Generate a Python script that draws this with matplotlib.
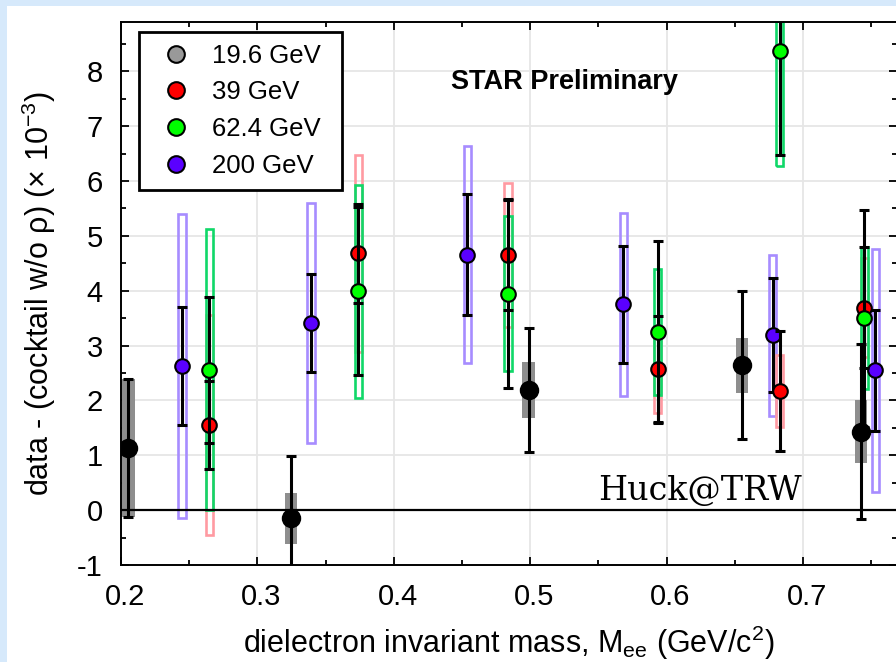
import numpy as np
import matplotlib.pyplot as plt
import matplotlib.transforms as mtransforms
from matplotlib.lines import Line2D
from matplotlib.patches import Rectangle

plt.rcParams['font.family'] = 'Liberation Sans'
plt.rcParams['mathtext.fontset'] = 'custom'
plt.rcParams['mathtext.rm'] = 'Liberation Sans'
plt.rcParams['mathtext.it'] = 'Liberation Sans:italic'

# excess yield per energy: mass (GeV/c^2), value, stat. error, sys. error  (x 10^-3)
mass_19 = [0.2053, 0.3246, 0.4988, 0.6555, 0.7425]
val_19 = [1.14, -0.15, 2.19, 2.64, 1.43]
stat_19 = [1.26, 1.13, 1.13, 1.35, 1.60]
sys_19 = [1.26, 0.47, 0.51, 0.50, 0.57]

mass_39 = [0.2647, 0.3740, 0.4837, 0.5934, 0.6830, 0.7450]
val_39 = [1.55, 4.68, 4.65, 2.57, 2.17, 3.69]
stat_39 = [0.80, 0.90, 1.00, 0.97, 1.10, 1.10]
sys_39 = [2.00, 1.80, 1.31, 0.79, 0.65, 0.90]

mass_62 = [0.2647, 0.3740, 0.4837, 0.5934, 0.6830, 0.7450]
val_62 = [2.56, 3.99, 3.95, 3.25, 8.37, 3.50]
stat_62 = [1.33, 1.53, 1.72, 1.66, 1.90, 1.98]
sys_62 = [2.56, 1.94, 1.41, 1.15, 2.10, 1.30]

mass_200 = [0.2448, 0.3394, 0.4540, 0.5684, 0.6779, 0.7531]
val_200 = [2.63, 3.41, 4.66, 3.75, 3.19, 2.55]
stat_200 = [1.07, 0.90, 1.10, 1.06, 1.04, 1.10]
sys_200 = [2.77, 2.19, 1.98, 1.66, 1.47, 2.21]

labels = ['19.6 GeV', '39 GeV', '62.4 GeV', '200 GeV']


def draw_sys(ax, x, y, err, color, filled, z):
	y = np.array(y)
	err = np.array(err)
	if filled:
		ax.bar(x, 2*err, bottom=y-err, width=0.0092, color=color, linewidth=0, zorder=z)
	else:
		ax.bar(x, 2*err, bottom=y-err, width=0.0054, fill=False, edgecolor=color, linewidth=1.9, zorder=z)


def draw_points(ax, x, y, err, color, size, z):
	ax.errorbar(x, y, yerr=err, fmt='none', ecolor='black', elinewidth=2.2,
		capsize=3.4, capthick=2.2, zorder=z)
	ax.plot(x, y, 'o', ms=size, mfc=color, mec='black', mew=1.5, zorder=z+0.05)


def main():
	fig = plt.figure(figsize=(8.96, 6.62), dpi=100, facecolor='#d6e9fb')
	fig.patches.append(Rectangle((7/896, 0), 1, 1-6/662, transform=fig.transFigure,
		facecolor='white', edgecolor='none', zorder=-10))

	ax = fig.add_axes([121/896, 97/662, 776/896, 543/662])
	ax.set_xlim(0.2, 0.769)
	ax.set_ylim(-1, 8.9)

	ax.grid(True, color='#e6e6e6', linewidth=1.3)
	ax.set_axisbelow(True)
	ax.axhline(0, color='black', linewidth=1.6, zorder=2.5)

	# systematic boxes
	draw_sys(ax, mass_200, val_200, sys_200, '#a78cff', False, 2.0)
	draw_sys(ax, mass_39, val_39, sys_39, '#ff9aa2', False, 2.1)
	draw_sys(ax, mass_62, val_62, sys_62, '#10d868', False, 2.2)
	draw_sys(ax, mass_19, val_19, sys_19, '#8e8e8e', True, 2.3)

	# points with statistical errors
	draw_points(ax, mass_200, val_200, stat_200, '#5a00ff', 10.5, 3.0)
	draw_points(ax, mass_39, val_39, stat_39, '#ff0000', 10.5, 3.2)
	draw_points(ax, mass_62, val_62, stat_62, '#00ff00', 10.5, 3.4)
	draw_points(ax, mass_19, val_19, stat_19, 'black', 12.5, 3.6)

	ax.set_xticks(np.arange(0.2, 0.75, 0.1))
	ax.set_xticks(np.arange(0.25, 0.77, 0.1), minor=True)
	ax.set_yticks(np.arange(-1, 9, 1))
	ax.set_yticks(np.arange(-0.5, 9, 1), minor=True)
	ax.set_xticklabels(['0.2', '0.3', '0.4', '0.5', '0.6', '0.7'])
	ax.set_yticklabels([str(v) for v in range(-1, 9)])
	ax.tick_params(which='both', direction='in', top=True, right=True, width=1.3)
	ax.tick_params(which='major', length=6, labelsize=21, pad=13)
	ax.tick_params(which='minor', length=3.5)
	offset = mtransforms.ScaledTranslation(4/100, 0, fig.dpi_scale_trans)
	for lab in ax.get_xticklabels():
		lab.set_transform(lab.get_transform() + offset)
	for sp in ax.spines.values():
		sp.set_linewidth(1.4)

	ax.set_xlabel('dielectron invariant mass, M$_{\\mathregular{ee}}$ (GeV/c$^{\\mathregular{2}}$)',
		fontsize=22, labelpad=9)
	ax.set_ylabel('data - (cocktail w/o ρ) (× 10$^{\\mathregular{-3}}$)', fontsize=22, labelpad=14)

	ax.text(0.442, 7.67, 'STAR Preliminary', fontsize=19.5, fontweight='bold', va='baseline')
	ax.text(0.5497, 0.18, 'Huck@TRW', fontsize=24, family='DejaVu Serif', va='baseline', zorder=5)

	colors = ['#999999', '#ff0000', '#00ff00', '#5a00ff']
	handles = [Line2D([], [], ls='none', marker='o', ms=12, mfc=c, mec='black', mew=1.5) for c in colors]
	leg = ax.legend(handles, labels, loc='upper left', bbox_to_anchor=(0.0232, 0.5, 0.2616, 0.4816),
		mode='expand', borderaxespad=0, fontsize=18.5, handlelength=1.95, handletextpad=0.45,
		labelspacing=0.5, borderpad=0.45, fancybox=False, framealpha=1, edgecolor='black')
	leg.get_frame().set_linewidth(2.0)
	leg.set_zorder(6)

	fig.savefig('out.png', dpi=100, facecolor=fig.get_facecolor())


main()
